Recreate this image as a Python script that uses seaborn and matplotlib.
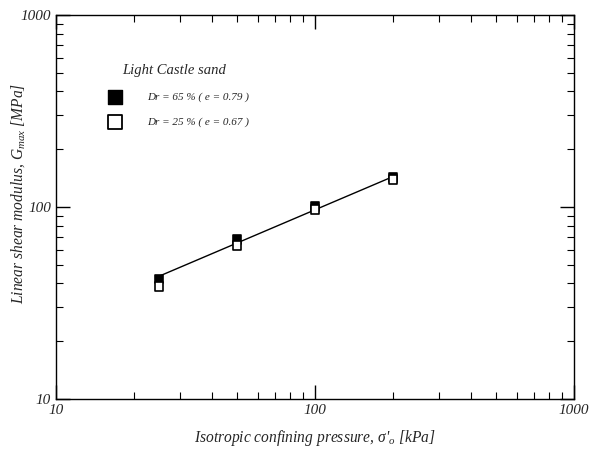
import numpy as np
import pandas as pd
import matplotlib
matplotlib.use("Agg")
import matplotlib.pyplot as plt
import matplotlib.ticker as mticker
import seaborn as sns

# data
pressure = [25, 50, 100, 200]
g_dense = [42.2, 67.5, 100.5, 142.0]   # Dr = 65 %
g_loose = [38.4, 63.0, 97.0, 139.0]    # Dr = 25 %
fit_x = [25, 200]
fit_y = [43.6, 144.0]

df = pd.DataFrame({
    "p": pressure * 2,
    "G": g_dense + g_loose,
    "set": ["Dr = 65 % ( e = 0.79 )"] * 4 + ["Dr = 25 % ( e = 0.67 )"] * 4,
})

sns.set_theme(style="ticks")
plt.rcParams["font.family"] = ["Liberation Serif", "DejaVu Serif"]
plt.rcParams["font.style"] = "italic"
plt.rcParams["mathtext.fontset"] = "custom"
plt.rcParams["mathtext.it"] = "Liberation Serif:italic"
plt.rcParams["mathtext.rm"] = "Liberation Serif:italic"

fig = plt.figure(figsize=(5.89, 4.49), dpi=100)
ax = fig.add_axes([56 / 589, 50 / 449, 518 / 589, 384 / 449])

sns.lineplot(x=fit_x, y=fit_y, ax=ax, color="black", linewidth=1)
sns.scatterplot(data=df, x="p", y="G", hue="set", style="set",
                palette={"Dr = 65 % ( e = 0.79 )": "black", "Dr = 25 % ( e = 0.67 )": "white"},
                markers={"Dr = 65 % ( e = 0.79 )": "s", "Dr = 25 % ( e = 0.67 )": "s"},
                edgecolor="black", linewidth=1.2, s=40, ax=ax, legend=False, zorder=3)

ax.set_xscale("log")
ax.set_yscale("log")
ax.set_xlim(10, 1000)
ax.set_ylim(10, 1000)

for a in (ax.xaxis, ax.yaxis):
    a.set_major_formatter(mticker.FuncFormatter(lambda v, _: f"{v:g}"))
    a.set_minor_formatter(mticker.NullFormatter())
ax.tick_params(which="both", direction="in", top=True, right=True, labelsize=11, color="black")
ax.tick_params(which="major", length=10, width=1)
ax.tick_params(which="minor", length=5, width=0.8)
for lbl in ax.get_xticklabels() + ax.get_yticklabels():
    lbl.set_fontstyle("italic")
for sp in ax.spines.values():
    sp.set_linewidth(1)
    sp.set_color("black")

ax.set_xlabel("Isotropic confining pressure, σ'$_o$ [kPa]", fontsize=11.2,
              fontstyle="italic", labelpad=8)
ax.set_ylabel("Linear shear modulus, G$_{max}$ [MPa]", fontsize=11.2,
              fontstyle="italic", va="center")
ax.yaxis.set_label_coords(-0.073, 0.536)

# hand-built legend, as in the original figure
ax.text(0.127, 0.846, "Light Castle sand", transform=ax.transAxes, fontsize=10.5,
        fontstyle="italic")
ax.scatter([0.114], [0.786], marker="s", s=110, color="black", edgecolor="black",
           transform=ax.transAxes, clip_on=False)
ax.scatter([0.114], [0.721], marker="s", s=110, color="white", edgecolor="black",
           linewidth=1.3, transform=ax.transAxes, clip_on=False)
ax.text(0.175, 0.786, "Dr = 65 % ( e = 0.79 )", transform=ax.transAxes, fontsize=8,
        va="center", fontstyle="italic")
ax.text(0.175, 0.721, "Dr = 25 % ( e = 0.67 )", transform=ax.transAxes, fontsize=8,
        va="center", fontstyle="italic")

fig.savefig("out.png", dpi=100, facecolor="white")
